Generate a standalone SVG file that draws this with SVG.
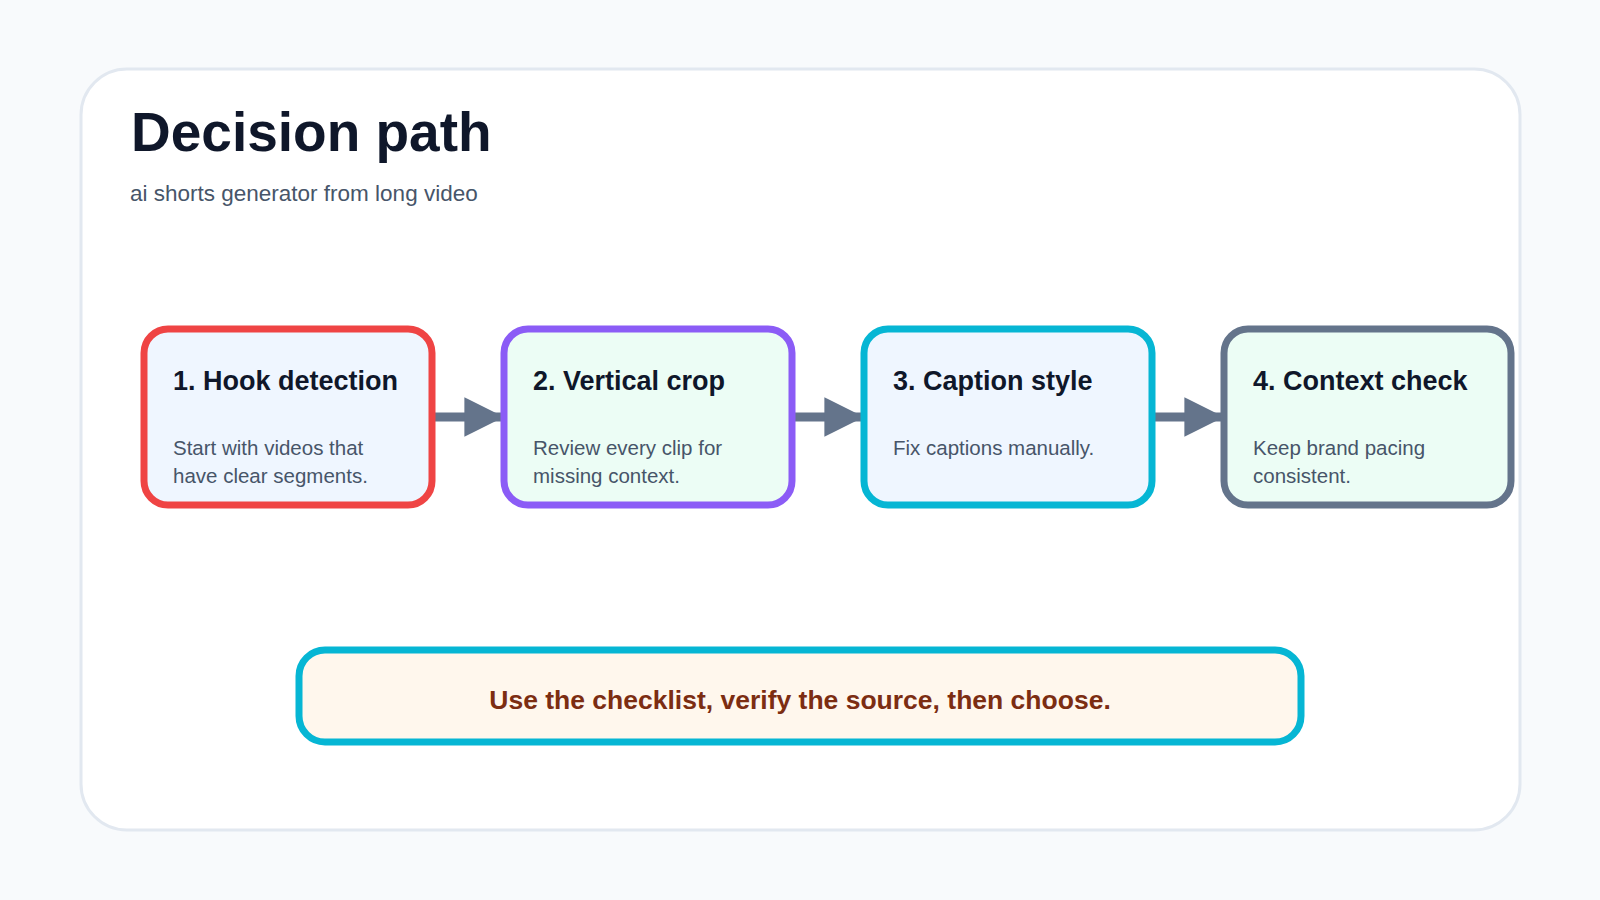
<svg xmlns="http://www.w3.org/2000/svg" width="1600" height="900" viewBox="0 0 1600 900">
<style>
text{font-family:"Liberation Sans",Arial,sans-serif}
.t{font-size:27px;font-weight:bold;fill:#0f172a}
.b{font-size:20.5px;fill:#475569}
.n{stroke-width:7}
</style>
<defs><marker id="ah" viewBox="0 0 10 10" refX="10" refY="5" markerWidth="4.4" markerHeight="5.6" markerUnits="strokeWidth" orient="auto"><path d="M0,0L10,5L0,10Z" fill="#64748b"/></marker></defs>
<rect width="1600" height="900" fill="#f8fafc"/>
<rect x="81" y="69" width="1439" height="761" rx="46" fill="#fff" stroke="#e2e8f0" stroke-width="3"/>
<text x="131" y="151" font-size="55" font-weight="bold" fill="#0f172a">Decision path</text>
<text x="130" y="201" font-size="22.5" fill="#475569">ai shorts generator from long video</text>
<g id="connectors" stroke="#64748b" stroke-width="9" fill="none">
<line x1="432" y1="417" x2="504" y2="417" marker-end="url(#ah)"/>
<line x1="792" y1="417" x2="864" y2="417" marker-end="url(#ah)"/>
<line x1="1152" y1="417" x2="1224" y2="417" marker-end="url(#ah)"/>
</g>
<g id="n1"><rect class="n" x="144" y="329" width="288" height="176" rx="24" fill="#eff6ff" stroke="#ef4444"/>
<text class="t" x="173" y="390">1. Hook detection</text><text class="b" x="173" y="455">Start with videos that</text><text class="b" x="173" y="483">have clear segments.</text></g>
<g id="n2"><rect class="n" x="504" y="329" width="288" height="176" rx="24" fill="#ecfdf5" stroke="#8b5cf6"/>
<text class="t" x="533" y="390">2. Vertical crop</text><text class="b" x="533" y="455">Review every clip for</text><text class="b" x="533" y="483">missing context.</text></g>
<g id="n3"><rect class="n" x="864" y="329" width="288" height="176" rx="24" fill="#eff6ff" stroke="#06b6d4"/>
<text class="t" x="893" y="390">3. Caption style</text><text class="b" x="893" y="455">Fix captions manually.</text></g>
<g id="n4"><rect class="n" x="1224" y="329" width="287" height="176" rx="24" fill="#ecfdf5" stroke="#64748b"/>
<text class="t" x="1253" y="390">4. Context check</text><text class="b" x="1253" y="455">Keep brand pacing</text><text class="b" x="1253" y="483">consistent.</text></g>
<g id="note"><rect x="299" y="650" width="1002" height="92" rx="26" fill="#fff7ed" stroke="#06b6d4" stroke-width="7"/>
<text x="800" y="709" text-anchor="middle" font-size="26.5" font-weight="bold" fill="#7c2d12">Use the checklist, verify the source, then choose.</text></g>
</svg>
